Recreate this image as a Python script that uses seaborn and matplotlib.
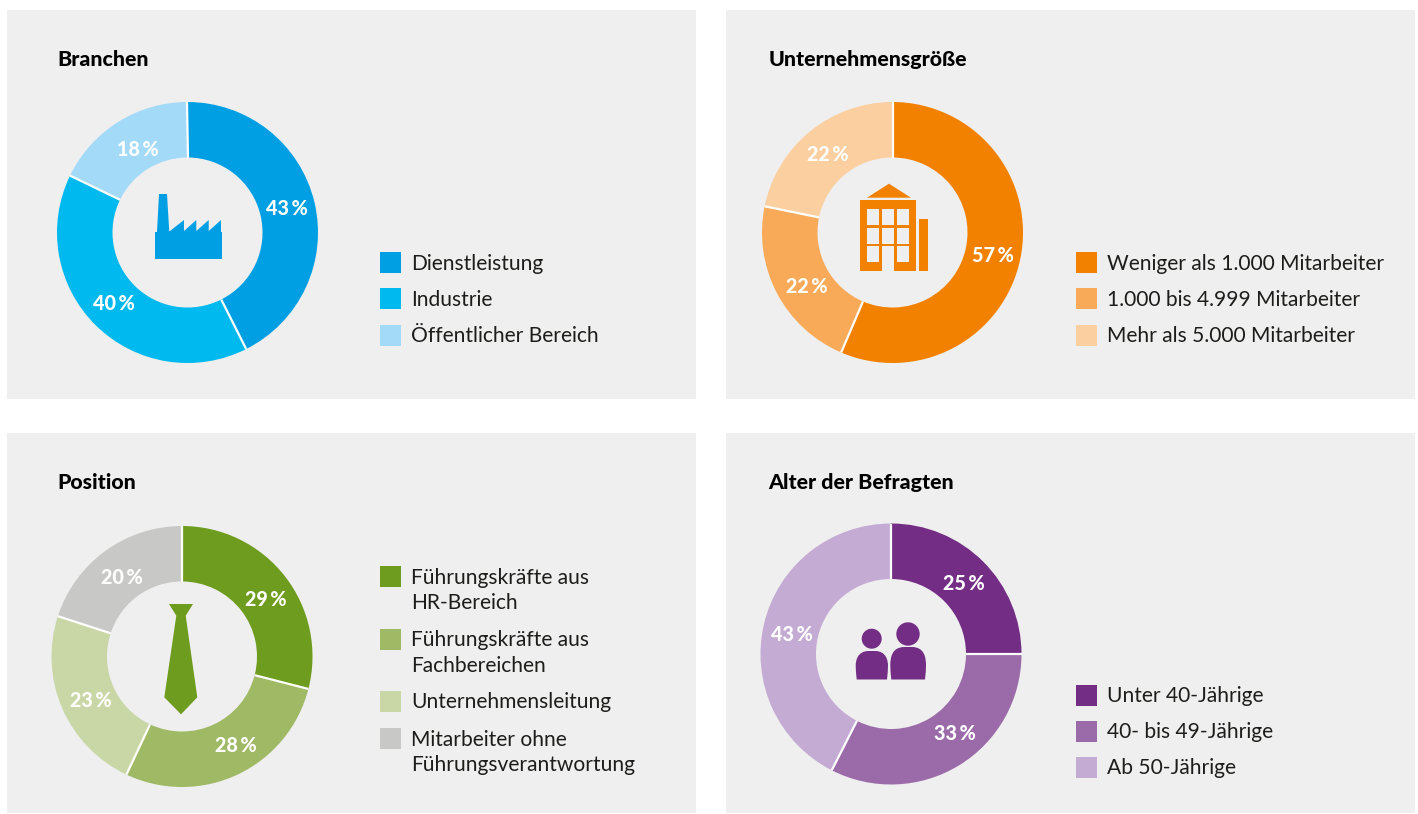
import numpy as np
import matplotlib
matplotlib.use('Agg')
import matplotlib.pyplot as plt
from matplotlib.patches import Rectangle, Polygon, Circle, PathPatch
from matplotlib.path import Path
import seaborn as sns

W, H = 1418, 814
PANEL_BG = '#EFEFEF'

# data
branchen_labels = ['Dienstleistung', 'Industrie', 'Öffentlicher Bereich']
branchen_values = [43, 40, 18]
branchen_colors = ['#009FE3', '#00B9EE', '#A3DAF8']

groesse_labels = ['Weniger als 1.000 Mitarbeiter', '1.000 bis 4.999 Mitarbeiter', 'Mehr als 5.000 Mitarbeiter']
groesse_values = [57, 22, 22]
groesse_colors = ['#F28100', '#F8AA58', '#FCCFA1']

position_labels = ['Führungskräfte aus\nHR-Bereich', 'Führungskräfte aus\nFachbereichen',
                   'Unternehmensleitung', 'Mitarbeiter ohne\nFührungsverantwortung']
position_values = [29, 28, 23, 20]
position_colors = ['#6E9C1E', '#9FB965', '#C9D6A6', '#C8C9C7']

alter_labels = ['Unter 40-Jährige', '40- bis 49-Jährige', 'Ab 50-Jährige']
alter_values = [25, 33, 43]
alter_shares = [25, 32.5, 42.5]  # slice sizes as drawn, labels are rounded
alter_colors = ['#732D85', '#9B6BA9', '#C4ABD4']

# label nudges in pixels, the labels are not quite on the ring centre
branchen_nudge = [(0, 0), (-2, -2), (4, 3)]
groesse_nudge = [(1, 3), (4, 7), (0, 1)]
position_nudge = [(3, 5), (11, -3), (2, 4), (0, 3)]
alter_nudge = [(1, 1), (11, -7), (0, 4)]

sns.set_theme(style='white')
plt.rcParams['font.family'] = ['Lato', 'DejaVu Sans']

fig = plt.figure(figsize=(W / 100, H / 100), dpi=100, facecolor='white')
bg = fig.add_axes([0, 0, 1, 1])
bg.set_xlim(0, W)
bg.set_ylim(H, 0)
bg.axis('off')


def donut(cx, cy, values, labels, colors, nudge, r=130.5, inner=75):
    # own axes for each ring, scaled so that radius 1 is r pixels
    pad = 1.02
    ax = fig.add_axes([(cx - r * pad) / W, 1 - (cy + r * pad) / H, 2 * r * pad / W, 2 * r * pad / H])
    ax.patch.set_alpha(0)
    labels = ['{}\u2009%'.format(v) for v in labels]
    wedges, texts = ax.pie(values, labels=labels, colors=sns.color_palette(colors), startangle=90,
                           counterclock=False, radius=1, labeldistance=0.78,
                           wedgeprops={'width': 1 - inner / r, 'linewidth': 0})
    for t, (dx, dy) in zip(texts, nudge):
        x, y = t.get_position()
        t.set_position((x + dx / r, y - dy / r))
        t.set_ha('center')
        t.set_va('center')
        t.set_color('white')
        t.set_fontsize(14.2)
        t.set_fontweight(900)
    # separators only between the slices, no outline on the ring
    for f in np.cumsum(values) / np.sum(values):
        a = np.pi / 2 - 2 * np.pi * f
        ax.plot([inner / r * np.cos(a), np.cos(a)], [inner / r * np.sin(a), np.sin(a)],
                color='white', lw=1.6, solid_capstyle='butt', zorder=2)
    ax.set_xlim(-pad, pad)
    ax.set_ylim(-pad, pad)
    ax.set_aspect('equal')
    return ax


def panel(x0, y0, x1, y1, title, tx):
    bg.add_patch(Rectangle((x0, y0), x1 - x0, y1 - y0, fc=PANEL_BG, ec='none'))
    bg.text(tx, y0 + 49.5, title, fontsize=15.4, fontweight=900, color='black', va='center')


def legend(x, ys, labels, colors):
    for y, lab, c in zip(ys, labels, colors):
        bg.add_patch(Rectangle((x, y), 21, 21, fc=c, ec='none'))
        for i, line in enumerate(lab.split('\n')):
            bg.text(x + 31, y + 11.5 + i * 25.7, line, fontsize=15.1, color='#1d1d1b', va='center')


panel(7, 10, 696, 399, 'Branchen', 57)
panel(726, 10, 1415, 399, 'Unternehmensgröße', 769)
panel(7, 433, 696, 813, 'Position', 57)
panel(726, 433, 1415, 813, 'Alter der Befragten', 768)

donut(187.5, 232.5, branchen_values, branchen_values, branchen_colors, branchen_nudge)
donut(892.5, 232.5, groesse_values, groesse_values, groesse_colors, groesse_nudge)
donut(182, 656.5, position_values, position_values, position_colors, position_nudge)
donut(891, 654, alter_shares, alter_values, alter_colors, alter_nudge)

legend(380, [252, 288, 325], branchen_labels, branchen_colors)
legend(1076, [252, 288, 325], groesse_labels, groesse_colors)
legend(380, [566, 629, 691, 728], position_labels, position_colors)
legend(1076, [685, 721, 757], alter_labels, alter_colors)

# factory icon
c = branchen_colors[0]
bg.add_patch(Polygon([(155, 259), (222, 259), (222, 232), (221, 232), (221, 220), (208.7, 231), (208.7, 220),
                      (196.3, 231), (196.3, 220), (184, 231), (184, 220), (168.7, 232), (169.3, 232),
                      (167, 194), (159, 194), (157, 232), (155, 232)], fc=c, ec='none'))

# building icon
c = groesse_colors[0]
bg.add_patch(Polygon([(867, 197.7), (889, 183.7), (911, 197.7)], fc=c, ec='none'))
bg.add_patch(Rectangle((860, 200), 56, 71, fc=c, ec='none'))
bg.add_patch(Rectangle((919, 219), 9, 52, fc=c, ec='none'))
for wx in [867, 882, 897]:
    for wy in [209, 228, 246]:
        h = 25 if (wx == 882 and wy == 246) else 16
        bg.add_patch(Rectangle((wx, wy), 12, h, fc=PANEL_BG, ec='none'))

# tie icon
bg.add_patch(Polygon([(169, 604), (193, 604), (185.7, 615.7), (197.3, 697.3), (181, 714.3),
                      (164.3, 697.3), (176.3, 615.7)], fc=position_colors[0], ec='none'))


def person(hx, hy, hr, xl, xr, yt, yb, color):
    bg.add_patch(Circle((hx, hy), hr, fc=color, ec='none'))
    w = xr - xl
    verts = [(xl + 1, yb), (xl, yb - 8), (xl, yb - 14), (xl, yt + 10), (xl + 0.05 * w, yt), (xl + 0.4 * w, yt),
             (xl + 0.6 * w, yt), (xr - 0.05 * w, yt), (xr, yt + 10), (xr, yb - 14),
             (xr, yb - 8), (xr - 1, yb), (xl + 1, yb)]
    codes = [Path.MOVETO, Path.CURVE3, Path.CURVE3, Path.CURVE4, Path.CURVE4, Path.CURVE4, Path.LINETO,
             Path.CURVE4, Path.CURVE4, Path.CURVE4, Path.CURVE3, Path.CURVE3, Path.CLOSEPOLY]
    bg.add_patch(PathPatch(Path(verts, codes), fc=color, ec='none'))


# people icon
c = alter_colors[0]
person(871.7, 638.7, 10, 855.7, 888, 651, 679.5, c)
person(908, 634, 11.7, 890.3, 926, 647, 679.5, c)

fig.savefig('out.png', dpi=100, facecolor='white')
